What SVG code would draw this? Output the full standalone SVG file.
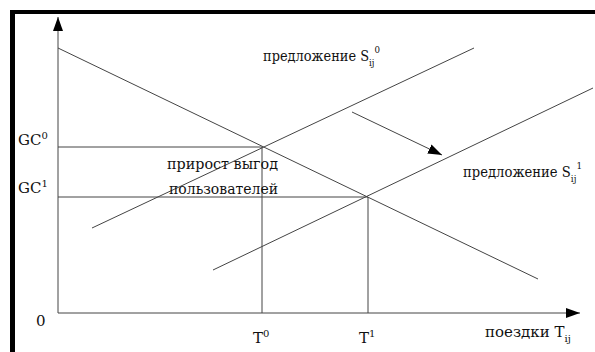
<svg xmlns="http://www.w3.org/2000/svg" width="595" height="352" viewBox="0 0 595 352">
<defs>
<style>
.ln{stroke:#444;stroke-width:1;fill:none}
text{font-family:'DejaVu Serif','Liberation Serif',serif;font-size:15px;fill:#111}
.s{font-size:10px}
</style>
<marker id="ah" markerWidth="14" markerHeight="10" refX="14" refY="5" orient="auto" markerUnits="userSpaceOnUse">
<path d="M0,0 L14,5 L0,10 Z" fill="#000"/>
</marker>
</defs>
<rect x="0" y="0" width="595" height="352" fill="#fff"/>
<path d="M10,352 V10 H595 V14 H15 V352 Z" fill="#000"/>
<g id="axes">
<line class="ln" x1="58" y1="313" x2="58" y2="17" marker-end="url(#ah)"/>
<line class="ln" x1="58" y1="313" x2="580" y2="313" marker-end="url(#ah)"/>
</g>
<g id="connectors">
<line class="ln" x1="58" y1="48" x2="538" y2="279"/>
<line class="ln" x1="92" y1="228" x2="474" y2="48"/>
<line class="ln" x1="213" y1="270" x2="593" y2="88"/>
<line class="ln" x1="58" y1="147" x2="262" y2="147"/>
<line class="ln" x1="58" y1="197" x2="368" y2="197"/>
<line class="ln" x1="262" y1="147" x2="262" y2="313"/>
<line class="ln" x1="368" y1="197" x2="368" y2="313"/>
<line class="ln" x1="352" y1="112" x2="442" y2="155" marker-end="url(#ah)"/>
</g>
<g id="labels">
<text x="18" y="145">GC<tspan class="s" dy="-6">0</tspan></text>
<text x="18" y="193">GC<tspan class="s" dy="-6">1</tspan></text>
<text x="36" y="326">0</text>
<text x="253" y="343">T<tspan class="s" dy="-6">0</tspan></text>
<text x="359" y="343">T<tspan class="s" dy="-6">1</tspan></text>
<text x="485" y="337">поездки T<tspan class="s" dy="5">ij</tspan></text>
<text x="167" y="169" textLength="111" lengthAdjust="spacingAndGlyphs">прирост выгод</text>
<text x="169" y="194" textLength="109" lengthAdjust="spacingAndGlyphs">пользователей</text>
<text x="263" y="61" textLength="117" lengthAdjust="spacingAndGlyphs">предложение S<tspan class="s" dy="5">ij</tspan><tspan class="s" dy="-13">0</tspan></text>
<text x="463" y="177" textLength="119" lengthAdjust="spacingAndGlyphs">предложение S<tspan class="s" dy="5">ij</tspan><tspan class="s" dy="-13">1</tspan></text>
</g>
</svg>
